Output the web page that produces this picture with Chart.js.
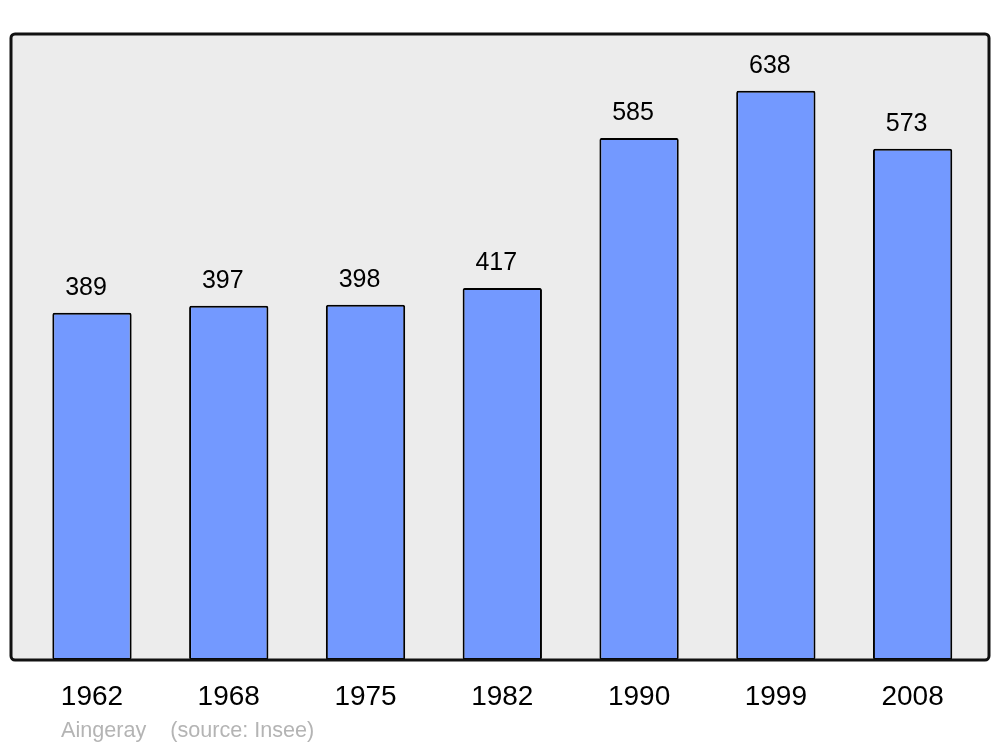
<!DOCTYPE html>
<html>
<head>
<meta charset="utf-8">
<script src="https://cdn.jsdelivr.net/npm/chart.js@4.4.0/dist/chart.umd.min.js"></script>
<style>
html,body{margin:0;padding:0;background:#fff;}
#wrap{width:1000px;height:747px;position:relative;}
</style>
</head>
<body>
<div id="wrap"><canvas id="c" width="1000" height="747"></canvas></div>
<script>
const years = ['1962','1968','1975','1982','1990','1999','2008'];
const population = [389, 397, 398, 417, 585, 638, 573];
const sourceText = 'Aingeray    (source: Insee)';

const framePlugin = {
  id: 'frame',
  beforeDatasetsDraw(chart) {
    const ctx = chart.ctx, a = chart.chartArea;
    ctx.save();
    ctx.beginPath();
    ctx.roundRect(11, a.top, 978, a.bottom - a.top, 4);
    ctx.fillStyle = '#ececec';
    ctx.fill();
    ctx.restore();
  },
  afterDatasetsDraw(chart) {
    const ctx = chart.ctx, a = chart.chartArea;
    ctx.save();
    ctx.beginPath();
    ctx.roundRect(11, a.top, 978, a.bottom - a.top, 4);
    ctx.lineWidth = 3;
    ctx.strokeStyle = '#111';
    ctx.stroke();
    // value labels
    const meta = chart.getDatasetMeta(0);
    ctx.font = '25px "Liberation Sans", Arial, sans-serif';
    ctx.fillStyle = '#000';
    ctx.textAlign = 'center';
    ctx.textBaseline = 'alphabetic';
    meta.data.forEach((bar, i) => {
      ctx.fillText(String(population[i]), bar.x - 6, bar.y - 18);
    });
    // source
    ctx.font = '21.6px "Liberation Sans", Arial, sans-serif';
    ctx.fillStyle = '#b4b4b4';
    ctx.textAlign = 'left';
    ctx.textBaseline = 'middle';
    ctx.fillText(sourceText, 61, 731);
    ctx.restore();
  }
};

new Chart(document.getElementById('c'), {
  type: 'bar',
  data: {
    labels: years,
    datasets: [{
      data: population,
      backgroundColor: '#7399ff',
      borderColor: '#000',
      borderWidth: 2,
      borderRadius: 2,
      borderSkipped: false,
      barPercentage: 0.58,
      categoryPercentage: 1.0
    }]
  },
  options: {
    responsive: false,
    animation: false,
    layout: { padding: { left: 23.6, right: 19, top: 34, bottom: 0 } },
    plugins: { legend: { display: false }, tooltip: { enabled: false } },
    scales: {
      y: { display: false, min: 0, max: 701.5 },
      x: {
        grid: { display: false, drawTicks: false },
        border: { display: false },
        ticks: { color: '#000', font: { size: 28, family: '"Liberation Sans", Arial, sans-serif' }, padding: 20, maxRotation: 0 },
        afterFit(scale) { scale.height = 87; }
      }
    }
  },
  plugins: [framePlugin]
});
</script>
</body>
</html>
